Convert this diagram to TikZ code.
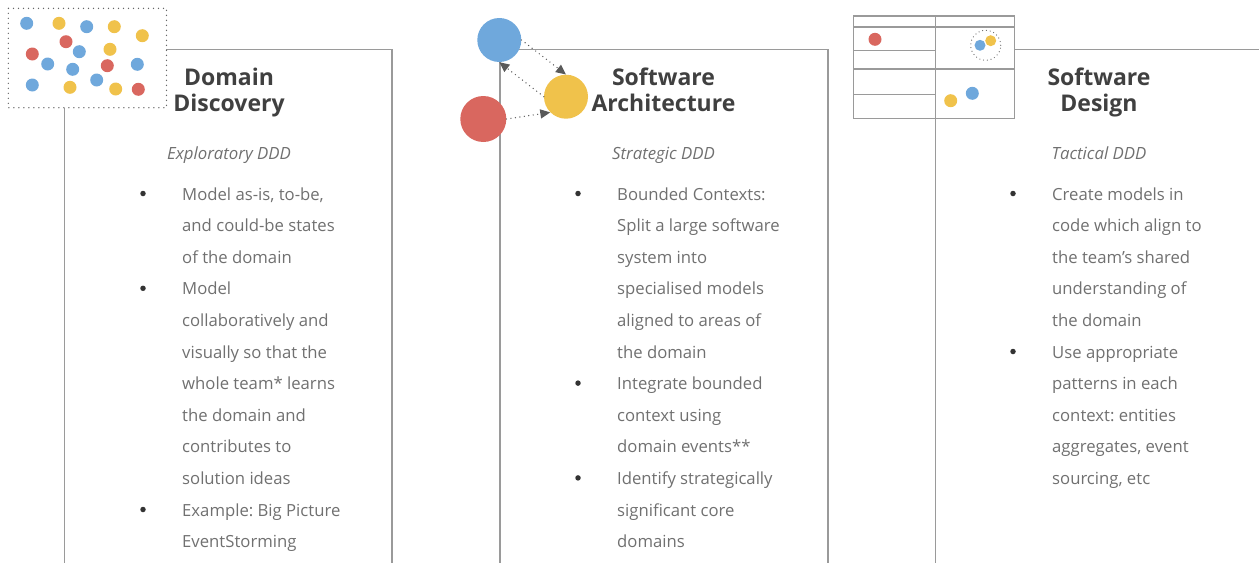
\documentclass[tikz,border=0pt]{standalone}
\usepackage{fontspec}
\setmainfont{Open Sans}
\frenchspacing
\usetikzlibrary{arrows.meta}
\definecolor{dotblue}{HTML}{6FA8DC}
\definecolor{dotyellow}{HTML}{F0C24B}
\definecolor{dotred}{HTML}{D9675F}
\definecolor{frame}{HTML}{9A9A9A}
\definecolor{titletext}{HTML}{404040}
\definecolor{bodytext}{HTML}{707070}
\definecolor{bulletc}{HTML}{333333}
\tikzset{
  frameline/.style={draw=frame, line width=1.4pt},
  dotbox/.style={draw=black!60, line width=1.4pt, dash pattern=on 0pt off 5pt, line cap=round},
  bdot/.style={circle, fill=dotblue, inner sep=0pt, minimum size=13pt},
  ydot/.style={circle, fill=dotyellow, inner sep=0pt, minimum size=13pt},
  rdot/.style={circle, fill=dotred, inner sep=0pt, minimum size=13pt},
  titletxt/.style={anchor=base, inner sep=0pt, text=titletext, font={\fontsize{23}{27}\selectfont\bfseries}},
  subtxt/.style={anchor=base, inner sep=0pt, text=bodytext, font={\fontsize{16.8}{20}\selectfont\itshape}},
  linetxt/.style={anchor=base west, inner sep=0pt, text=bodytext, font={\fontsize{16.7}{20}\selectfont}},
  bullet/.style={circle, fill=bulletc, inner sep=0pt, minimum size=5.5pt},
  flow/.style={draw=black!65, line width=1.4pt, dash pattern=on 0pt off 4.5pt, line cap=round,
    -{Triangle[length=10pt,width=9pt]}},
}
\begin{document}
\begin{tikzpicture}[x=1pt, y=-1pt]
\useasboundingbox (0,0) rectangle (1259,563);

% ---------- panel frames ----------
\draw[frameline] (64.5,108) -- (64.5,563);
\draw[frameline] (166,49.5) -- (392,49.5) -- (392,563);
\draw[frameline] (500,60) -- (500,563);
\draw[frameline] (500,49.5) -- (828,49.5) -- (828,563);
\draw[frameline] (1014,49.5) -- (1259,49.5);

% ---------- Domain Discovery: scattered sticky notes ----------
\draw[dotbox] (8.3,8.3) rectangle (166.5,107.7);
\foreach \n/\s/\x/\y in {
  a/bdot/26.7/23.3, b/ydot/59/23.3, c/bdot/86.7/26.7, d/ydot/114.3/26.7,
  e/ydot/142.3/35.7, f/rdot/66/41.7, g/bdot/79.3/51.7, h/ydot/110/49.3,
  i/rdot/32.3/54, j/bdot/47.7/64, k/bdot/72.7/69.3, l/rdot/107.3/65.7,
  m/bdot/137.3/64.3, n/bdot/32.3/85, o/ydot/70/87.3, p/bdot/96.7/80,
  q/ydot/115.7/89, r/rdot/138.3/89.3}
  \node[\s] (note\n) at (\x,\y) {};

% ---------- Software Architecture: related contexts ----------
\node[circle, fill=dotblue, inner sep=0pt, minimum size=44pt] (ctxblue) at (499.3,40) {};
\node[circle, fill=dotyellow, inner sep=0pt, minimum size=44pt] (ctxyellow) at (566,96.7) {};
\node[circle, fill=dotred, inner sep=0pt, minimum size=46pt] (ctxred) at (483.3,119) {};
\draw[flow] (ctxblue.east) -- (ctxyellow.north);
\draw[flow] (ctxyellow.west) -- (ctxblue.south);
\draw[flow] (ctxred.east) -- (ctxyellow.south west);

% ---------- Software Design: layered model grid ----------
\draw[frameline] (853.3,16) rectangle (1014.3,118.3);
\draw[frameline] (935.3,16) -- (935.3,563);
\draw[frameline] (853.3,27) -- (1014.3,27);
\draw[frameline] (853.3,69) -- (1014.3,69);
\draw[frameline] (853.3,50.7) -- (935.3,50.7);
\draw[frameline] (853.3,94.3) -- (935.3,94.3);
\node[rdot] (gridred) at (875,39.3) {};
\draw[dotbox, line width=1.2pt, dash pattern=on 0pt off 3.8pt] (985.7,45.3) circle (15pt);
\node[circle, fill=dotblue, inner sep=0pt, minimum size=11pt] (aggblue) at (980,45.3) {};
\node[circle, fill=dotyellow, inner sep=0pt, minimum size=11pt] (aggyellow) at (990.7,40.7) {};
\node[ydot] (gridyellow) at (950.7,100.7) {};
\node[bdot] (gridblue) at (972.3,93.3) {};

% ---------- titles ----------
\node[titletxt] (t1a) at (229,85) {Domain};
\node[titletxt] (t1b) at (229,111.7) {Discovery};
\node[titletxt] (t2a) at (663.5,85) {Software};
\node[titletxt] (t2b) at (663.5,111.7) {Architecture};
\node[titletxt] (t3a) at (1099,85) {Software};
\node[titletxt] (t3b) at (1099,111.7) {Design};

\node[subtxt] (s1) at (229,159) {Exploratory DDD};
\node[subtxt] (s2) at (663.5,159) {Strategic DDD};
\node[subtxt] (s3) at (1099,159) {Tactical DDD};

% ---------- bullet lists ----------
\def\lead{200}
\def\gap{31.6}
\foreach \t [count=\i] in {
  {Model as-is, to-be,}, {and could-be states}, {of the domain}, {Model},
  {collaboratively and}, {visually so that the}, {whole team* learns},
  {the domain and}, {contributes to}, {solution ideas},
  {Example: Big Picture}, {EventStorming}}
  \node[linetxt] (a\i) at (182,{\lead+(\i-1)*\gap}) {\t};
\foreach \i in {1,4,11}
  \node[bullet] (ab\i) at (143,{\lead-6.5+(\i-1)*\gap}) {};

\foreach \t [count=\i] in {
  {Bounded Contexts:}, {Split a large software}, {system into},
  {specialised models}, {aligned to areas of}, {the domain},
  {Integrate bounded}, {context using}, {domain events**},
  {Identify strategically}, {significant core}, {domains}}
  \node[linetxt] (b\i) at (617,{\lead+(\i-1)*\gap}) {\t};
\foreach \i in {1,7,10}
  \node[bullet] (bb\i) at (578,{\lead-6.5+(\i-1)*\gap}) {};

\foreach \t [count=\i] in {
  {Create models in}, {code which align to}, {the team’s shared},
  {understanding of}, {the domain}, {Use appropriate},
  {patterns in each}, {context: entities}, {aggregates, event},
  {sourcing, etc}}
  \node[linetxt] (c\i) at (1052,{\lead+(\i-1)*\gap}) {\t};
\foreach \i in {1,6}
  \node[bullet] (cb\i) at (1013,{\lead-6.5+(\i-1)*\gap}) {};
\end{tikzpicture}
\end{document}
